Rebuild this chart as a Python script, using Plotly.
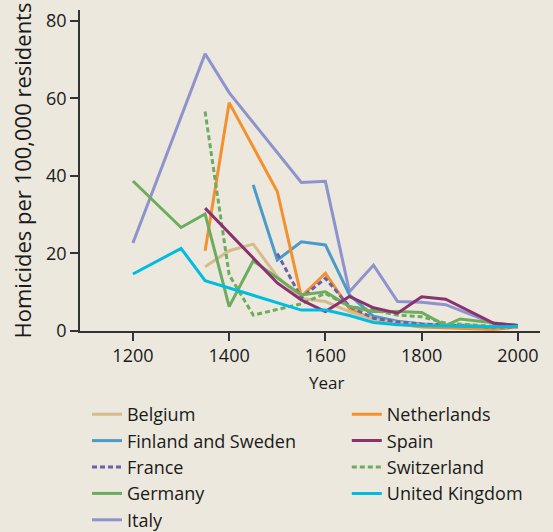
import plotly.graph_objects as go

# Homicides per 100,000 residents, by country and year
belgium_years = [1350, 1400, 1450, 1500, 1550, 1600, 1650, 1700, 1750, 1800, 1850, 1900, 1950, 2000]
belgium_rate = [16.6, 20.7, 22.4, 14.0, 8.4, 7.6, 5.0, 3.0, 2.2, 1.6, 1.4, 1.6, 1.0, 1.2]

finsweden_years = [1450, 1500, 1550, 1600, 1650, 1700, 1750, 1800, 1850, 1900, 1950, 2000]
finsweden_rate = [37.7, 18.3, 23.0, 22.2, 9.3, 3.8, 2.5, 1.8, 1.4, 1.2, 1.1, 1.2]

france_years = [1500, 1550, 1600, 1650, 1700, 1750, 1800, 1850, 1900, 1950, 2000]
france_rate = [20.0, 8.5, 13.6, 6.3, 3.3, 2.3, 1.8, 1.5, 1.3, 1.0, 1.1]

germany_years = [1200, 1300, 1350, 1400, 1450, 1550, 1600, 1650, 1700, 1750, 1800, 1850, 1880, 1950, 2000]
germany_rate = [38.7, 26.7, 30.2, 6.3, 18.1, 9.3, 10.1, 6.3, 5.0, 5.0, 4.8, 1.4, 3.1, 2.0, 1.4]

italy_years = [1200, 1350, 1400, 1550, 1600, 1650, 1700, 1750, 1800, 1850, 1950, 2000]
italy_rate = [22.7, 71.5, 61.5, 38.3, 38.6, 10.1, 17.0, 7.6, 7.4, 6.8, 1.9, 1.4]

netherlands_years = [1350, 1400, 1500, 1550, 1600, 1650, 1700, 1750, 1800, 1850, 1900, 1950, 2000]
netherlands_rate = [20.7, 58.9, 36.0, 8.9, 14.9, 5.8, 3.0, 1.8, 1.0, 0.8, 0.7, 0.4, 1.0]

spain_years = [1350, 1400, 1450, 1500, 1550, 1600, 1650, 1700, 1750, 1800, 1850, 1950, 2000]
spain_rate = [31.7, 25.2, 18.8, 12.4, 8.0, 5.0, 8.9, 6.0, 4.6, 8.8, 8.2, 2.0, 1.4]

switzerland_years = [1350, 1400, 1450, 1550, 1600, 1650, 1700, 1750, 1800, 1850, 1900, 1950, 2000]
switzerland_rate = [56.6, 14.5, 4.1, 7.0, 9.7, 6.3, 5.4, 4.1, 3.7, 2.0, 1.6, 1.2, 1.2]

uk_years = [1200, 1300, 1350, 1550, 1600, 1650, 1700, 1750, 1800, 1850, 1900, 1950, 2000]
uk_rate = [14.7, 21.3, 13.0, 5.4, 5.4, 4.0, 2.2, 1.6, 1.4, 1.3, 1.2, 1.0, 1.2]

x_ticks = [1200, 1400, 1600, 1800, 2000]
y_ticks = [0, 20, 40, 60, 80]

DASH = "5px,3px"

# (name, years, rates, colour, dash, legend column, position in column)
series = [
    ("Belgium", belgium_years, belgium_rate, "#d6bb8d", "solid", "legend", 1),
    ("Finland and Sweden", finsweden_years, finsweden_rate, "#4a9bc9", "solid", "legend", 2),
    ("France", france_years, france_rate, "#6a5fa9", DASH, "legend", 3),
    ("Germany", germany_years, germany_rate, "#6aad5e", "solid", "legend", 4),
    ("Italy", italy_years, italy_rate, "#8e93cd", "solid", "legend", 5),
    ("Netherlands", netherlands_years, netherlands_rate, "#f4912e", "solid", "legend2", 1),
    ("Spain", spain_years, spain_rate, "#8c3170", "solid", "legend2", 2),
    ("Switzerland", switzerland_years, switzerland_rate, "#6aad5e", DASH, "legend2", 3),
    ("United Kingdom", uk_years, uk_rate, "#00bde0", "solid", "legend2", 4),
]

# layering, back to front
draw_order = ["Italy", "Finland and Sweden", "Netherlands", "Belgium", "France",
              "Switzerland", "Germany", "Spain", "United Kingdom"]

fig = go.Figure()
for name, xs, ys, color, dash, leg, rank in sorted(series, key=lambda s: draw_order.index(s[0])):
    fig.add_trace(go.Scatter(
        x=xs, y=ys, mode="lines", name=name,
        line=dict(color=color, width=3, dash=dash),
        legend=leg, legendrank=rank,
    ))

bg = "#ece8dd"
axis_col = "#333333"
font_family = "'Open Sans', 'Noto Sans', sans-serif"

legend_common = dict(
    orientation="v", y=-0.2025, yanchor="top", xanchor="left",
    bgcolor="rgba(0,0,0,0)", font=dict(size=18), traceorder="normal",
)

fig.update_layout(
    width=553, height=532,
    paper_bgcolor=bg, plot_bgcolor=bg,
    margin=dict(l=80, r=13, t=10, b=201, autoexpand=False),
    font=dict(family=font_family, size=18, color="#1a1a1a"),
    showlegend=True,
    legend=dict(x=0.0152, **legend_common),
    legend2=dict(x=0.580, **legend_common),
    xaxis=dict(
        range=[1090, 2046], tickvals=x_ticks, showgrid=False, zeroline=False,
        showline=True, linecolor=axis_col, linewidth=1.5,
        ticks="outside", ticklen=8, tickcolor=axis_col, tickwidth=1.5,
    ),
    yaxis=dict(
        range=[0, 82.8], tickvals=y_ticks, showgrid=False, zeroline=False,
        showline=True, linecolor=axis_col, linewidth=1.5,
        ticks="outside", ticklen=8, tickcolor=axis_col, tickwidth=1.5,
        title=dict(text="Homicides per 100,000 residents", standoff=8),
    ),
    # x-axis title, centred under the labelled span of years
    annotations=[dict(
        text="Year", xref="paper", yref="paper", x=0.535, y=-0.159,
        xanchor="center", yanchor="middle", showarrow=False,
        font=dict(size=17),
    )],
)

fig.write_html("out.html")
